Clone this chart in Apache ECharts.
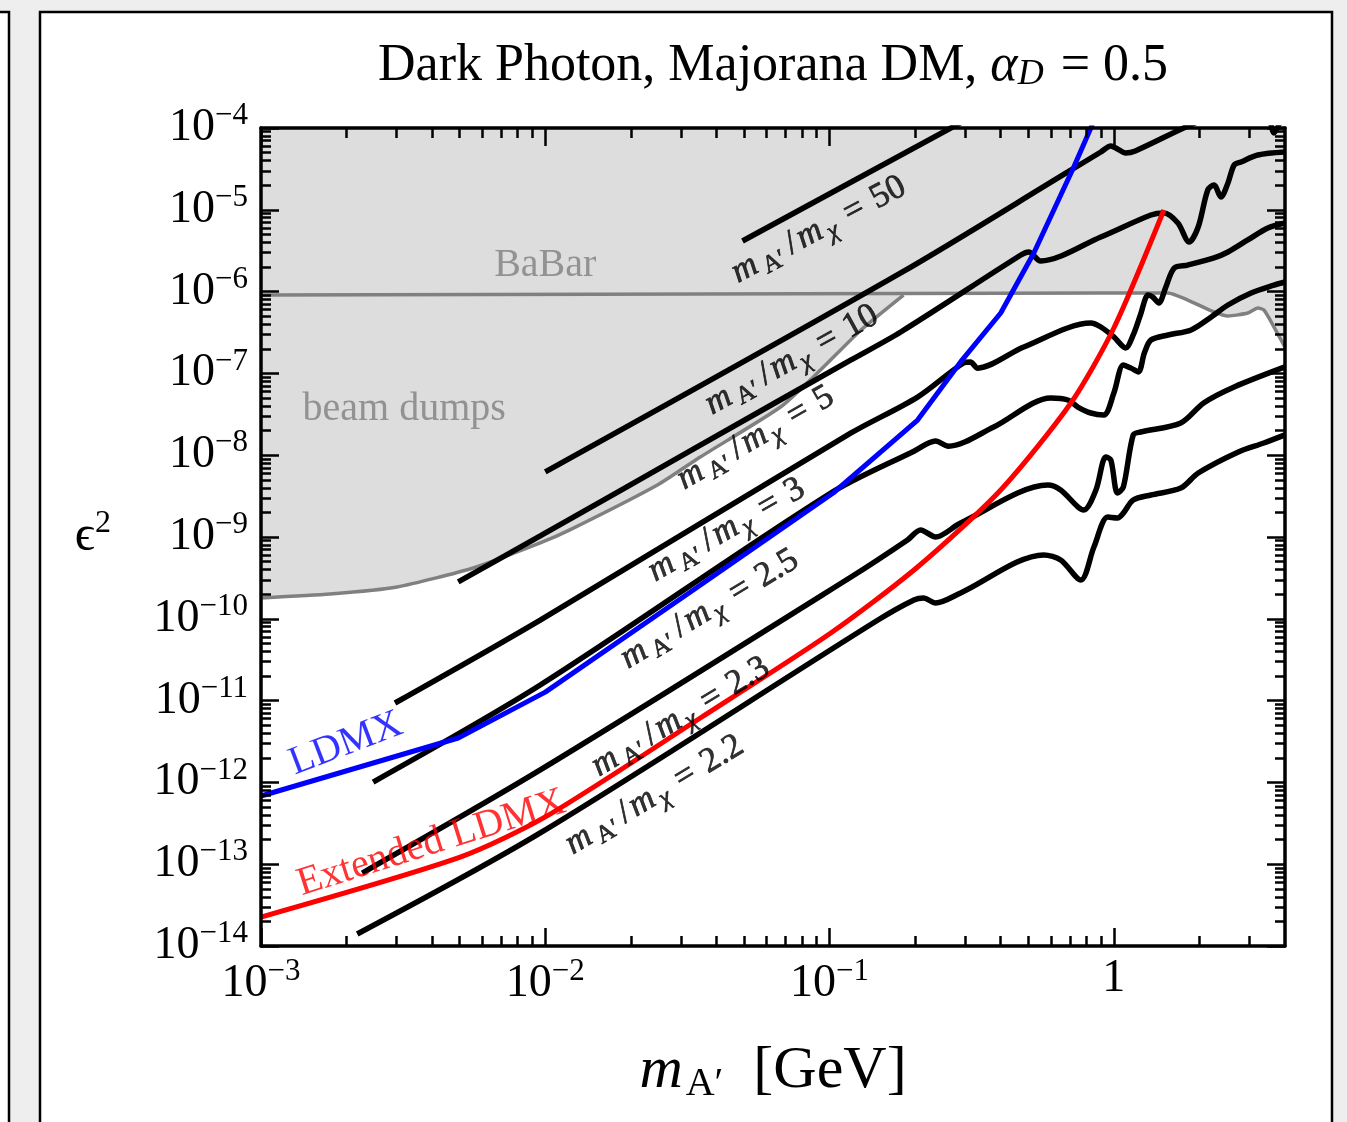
<!DOCTYPE html>
<html>
<head>
<meta charset="utf-8">
<title>Dark Photon, Majorana DM</title>
<script src="https://cdn.jsdelivr.net/npm/echarts@6/dist/echarts.min.js"></script>
<style>
  html, body { margin: 0; padding: 0; background: #eeeeee; }
  #chart { width: 1347px; height: 1122px; }
</style>
</head>
<body>
<div id="chart"></div>
<script>
// ---- axis ranges and ticks -------------------------------------------------
const X_MIN = 1e-3, X_MAX = 4;
const Y_MIN = 1e-14, Y_MAX = 1e-4;

const xMajorTicks = [1e-3, 1e-2, 1e-1, 1];
const yMajorTicks = [1e-14, 1e-13, 1e-12, 1e-11, 1e-10, 1e-9, 1e-8, 1e-7, 1e-6, 1e-5, 1e-4];
const minorSteps = [2, 3, 4, 5, 6, 7, 8, 9];

// ---- curves: [m_A' in GeV, epsilon^2] ---------------------------------------
// thermal relic targets for fixed mass ratios m_A'/m_chi
const ratio50 = [[4.94e-2, 4.16e-6], [4.00e-1, 2.14e-4]];
const ratio10 = [
  [1.00e-2, 6.24e-9], [1.78e-1, 1.69e-6], [6.89e-1, 2.90e-5], [9.00e-1, 5.09e-5],
  [9.76e-1, 6.03e-5], [1.03, 5.54e-5], [1.10, 4.95e-5], [1.19, 5.24e-5],
  [1.76, 1.00e-4], [2.58, 1.76e-4], [3.35, 2.39e-4], [3.66, 8.69e-5], [4.0, 1.76e-4]
];
const ratio5 = [
  [4.94e-3, 2.82e-10], [9.60e-3, 1.03e-9], [3.51e-2, 1.33e-8], [1.19e-1, 1.46e-7],
  [1.78e-1, 3.21e-7], [4.71e-1, 2.80e-6], [5.02e-1, 3.05e-6], [5.53e-1, 2.37e-6],
  [9.00e-1, 4.65e-6], [1.35, 8.63e-6], [1.50, 9.14e-6], [1.68, 6.90e-6],
  [1.84, 4.04e-6], [1.98, 6.16e-6], [2.14, 1.75e-5], [2.25, 2.01e-5],
  [2.38, 1.43e-5], [2.52, 2.13e-5], [2.65, 3.53e-5], [2.80, 3.84e-5],
  [3.21, 4.68e-5], [4.0, 5.09e-5]
];
const ratio3 = [
  [2.96e-3, 9.35e-12], [9.60e-3, 9.66e-11], [1.19e-1, 1.87e-8], [2.04e-1, 5.14e-8],
  [2.96e-1, 1.34e-7], [3.13e-1, 1.38e-7], [3.32e-1, 1.16e-7], [4.82e-1, 2.10e-7],
  [8.30e-1, 4.13e-7], [9.00e-1, 3.69e-7], [1.00, 2.79e-7], [1.10, 2.05e-7],
  [1.17, 2.95e-7], [1.24, 5.18e-7], [1.32, 9.08e-7], [1.37, 8.59e-7],
  [1.44, 7.26e-7], [1.52, 1.11e-6], [1.63, 1.94e-6], [1.82, 2.11e-6],
  [2.25, 2.58e-6], [2.52, 3.05e-6], [2.96, 4.28e-6], [3.48, 6.00e-6], [4.0, 6.90e-6]
];
const ratio2p5 = [
  [2.48e-3, 1.01e-12], [9.60e-3, 1.55e-11], [1.01e-1, 3.45e-9], [1.98e-1, 1.12e-8],
  [2.36e-1, 1.49e-8], [2.62e-1, 1.29e-8], [3.78e-1, 2.21e-8], [6.00e-1, 5.00e-8],
  [6.89e-1, 4.73e-8], [7.47e-1, 3.88e-8], [8.30e-1, 3.28e-8], [9.22e-1, 3.10e-8],
  [1.00, 5.75e-8], [1.08, 1.27e-7], [1.15, 1.16e-7], [1.22, 1.04e-7],
  [1.28, 1.77e-7], [1.35, 2.56e-7], [1.55, 2.95e-7], [1.87, 3.40e-7],
  [2.20, 4.89e-7], [2.52, 6.86e-7], [3.04, 9.62e-7], [3.66, 1.20e-6], [4.0, 1.31e-6]
];
const ratio2p3 = [
  [2.27e-3, 7.80e-14], [9.60e-3, 1.42e-12], [1.19e-1, 3.24e-10], [1.88e-1, 9.19e-10],
  [2.09e-1, 1.22e-9], [2.36e-1, 1.00e-9], [2.89e-1, 1.48e-9], [5.86e-1, 4.32e-9],
  [6.50e-1, 3.76e-9], [7.84e-1, 2.14e-9], [8.65e-1, 3.76e-9], [9.37e-1, 9.51e-9],
  [9.76e-1, 8.73e-9], [1.03, 3.45e-9], [1.08, 4.08e-9], [1.17, 1.77e-8],
  [1.24, 1.92e-8], [1.72, 2.48e-8], [2.07, 4.35e-8], [2.65, 6.82e-8], [4.0, 1.20e-7]
];
const ratio2p2 = [
  [2.18e-3, 1.40e-14], [9.60e-3, 2.41e-13], [1.48e-1, 9.66e-11], [1.98e-1, 1.70e-10],
  [2.14e-1, 1.80e-10], [2.36e-1, 1.56e-10], [2.89e-1, 2.07e-10], [5.67e-1, 6.03e-10],
  [6.50e-1, 5.24e-10], [7.65e-1, 2.98e-10], [8.51e-1, 7.55e-10], [9.52e-1, 1.75e-9],
  [1.03, 1.71e-9], [1.08, 1.96e-9], [1.17, 2.83e-9], [1.35, 3.26e-9],
  [1.72, 3.97e-9], [1.98, 6.06e-9], [2.73, 1.09e-8], [3.37, 1.41e-8], [4.0, 1.77e-8]
];

// projected reach
const ldmx = [
  [1.00e-3, 6.82e-13], [4.94e-3, 3.49e-12], [1.00e-2, 1.27e-11], [3.24e-2, 2.13e-10],
  [1.03e-1, 3.45e-9], [2.04e-1, 2.69e-8], [2.89e-1, 1.38e-7], [4.00e-1, 5.48e-7],
  [5.23e-1, 2.96e-6], [7.23e-1, 3.34e-5], [8.30e-1, 1.00e-4], [8.65e-1, 1.44e-4]
];
const extendedLdmx = [
  [1.00e-3, 2.26e-14], [5.02e-3, 1.22e-13], [1.00e-2, 3.78e-13], [3.51e-2, 6.13e-12],
  [1.01e-1, 6.70e-11], [2.04e-1, 4.30e-10], [4.00e-1, 3.76e-9], [7.06e-1, 4.35e-8],
  [1.00, 3.59e-7], [1.50, 9.95e-6]
];

// existing limits
const beamDumps = [
  [1.00e-3, 1.80e-10], [1.75e-3, 2.01e-10], [3.01e-3, 2.45e-10], [5.58e-3, 4.18e-10],
  [9.60e-3, 8.45e-10], [1.22e-2, 1.22e-9], [2.48e-2, 4.32e-9], [3.51e-2, 9.51e-9],
  [6.72e-2, 3.88e-8], [9.29e-2, 1.10e-7], [1.29e-1, 3.40e-7], [1.82e-1, 9.08e-7]
];
const babar = [
  [1.00e-3, 9.08e-7], [3.51e-2, 9.35e-7], [9.00e-1, 9.62e-7], [1.55, 9.62e-7],
  [1.82, 7.89e-7], [2.25, 5.64e-7], [2.52, 5.03e-7], [2.96, 5.48e-7],
  [3.21, 6.31e-7], [3.37, 5.96e-7], [3.66, 3.69e-7], [4.0, 2.10e-7]
];

// ---- text placed on the plot (data coordinates, rotation in degrees) -------
const ratioNames = ['50', '10', '5', '3', '2.5', '2.3', '2.2'];
const ratioLabelAt = [
  [9.15e-2, 5.7e-6], [7.36e-2, 1.46e-7], [5.49e-2, 1.62e-8], [4.34e-2, 1.22e-9],
  [3.78e-2, 1.31e-10], [2.99e-2, 6.30e-12], [2.42e-2, 7.01e-13]
];
const ratioLabelAngle = [28, 29, 30, 30, 31, 31, 31];

const regionLabels = [
  { text: 'BaBar', at: [1.00e-2, 2.11e-6], angle: 0, color: '#808080' },
  { text: 'beam dumps', at: [3.19e-3, 3.57e-8], angle: 0, color: '#808080' },
  { text: 'LDMX', at: [1.99e-3, 2.95e-12], angle: 21, color: '#0000ff' },
  { text: 'Extended LDMX', at: [3.98e-3, 1.80e-13], angle: 17.5, color: '#ff0000' }
];

// ---- styling ----------------------------------------------------------------
const SERIF = 'Liberation Serif';
const NO_HALO = { textBorderWidth: 0, textBorderColor: 'transparent', textShadowBlur: 0 };
// a hairline outline in the text colour keeps the rotated math labels solid black
const INK = { textBorderWidth: 0.7, textBorderColor: '#000', textShadowBlur: 0 };

function minorValues(majors, upper) {
  const out = [];
  majors.forEach(function (d) {
    minorSteps.forEach(function (k) {
      const v = d * k;
      if (v < upper) out.push(v);
    });
  });
  return out;
}
const xMinorTicks = minorValues(xMajorTicks, X_MAX);
const yMinorTicks = minorValues(yMajorTicks.slice(0, -1), Y_MAX);

function powerLabel(v) {
  const p = Math.round(Math.log10(v));
  if (p === 0) return '{b|1}';
  return '{b|10}{e|' + (p < 0 ? '\u2212' + (-p) : String(p)) + '}';
}
const TICK_RICH = {
  b: { fontFamily: SERIF, fontSize: 46, color: '#000' },
  e: { fontFamily: SERIF, fontSize: 31, color: '#000', padding: [0, 0, 24, 0] }
};

function makeAxis(dim, position, ticks, tickLen, labels, line) {
  return {
    type: 'log', logBase: 10,
    min: dim === 'x' ? X_MIN : Y_MIN,
    max: dim === 'x' ? X_MAX : Y_MAX,
    position: position, z: 10, silent: true,
    axisLine: { show: line, onZero: false, lineStyle: { color: '#000', width: 3.5 } },
    axisTick: { show: true, inside: true, length: tickLen, customValues: ticks,
                lineStyle: { color: '#000', width: 2.5 } },
    axisLabel: labels ? {
      show: true, customValues: ticks, formatter: powerLabel, rich: TICK_RICH,
      margin: dim === 'x' ? 10 : 13, color: '#000', fontFamily: SERIF, fontSize: 46
    } : { show: false },
    splitLine: { show: false }, minorTick: { show: false }, minorSplitLine: { show: false },
    axisPointer: { show: false }
  };
}

const xAxes = [
  makeAxis('x', 'bottom', xMajorTicks, 18, true, true),
  makeAxis('x', 'bottom', xMinorTicks, 10, false, false),
  makeAxis('x', 'top', xMajorTicks, 18, false, true),
  makeAxis('x', 'top', xMinorTicks, 10, false, false)
];
xAxes[0].name = '{i|m}{s|A\u2032}{n|  [GeV]}';
xAxes[0].nameLocation = 'middle';
xAxes[0].nameGap = 92;
xAxes[0].nameTextStyle = {
  rich: {
    i: { fontFamily: SERIF, fontStyle: 'italic', fontSize: 60, color: '#000', padding: [0, 3, 0, 0] },
    s: { fontFamily: SERIF, fontSize: 40, color: '#000', padding: [26, 0, 0, 0] },
    n: { fontFamily: SERIF, fontSize: 60, color: '#000' }
  }
};

const yAxes = [
  makeAxis('y', 'left', yMajorTicks, 18, true, true),
  makeAxis('y', 'left', yMinorTicks, 10, false, false),
  makeAxis('y', 'right', yMajorTicks, 18, false, true),
  makeAxis('y', 'right', yMinorTicks, 10, false, false)
];
yAxes[0].name = '{i|\u03f5}{e|2}';
yAxes[0].nameLocation = 'middle';
yAxes[0].nameRotate = 0;
yAxes[0].nameGap = 150;
yAxes[0].nameTextStyle = {
  rich: {
    i: { fontFamily: SERIF, fontSize: 50, color: '#000' },
    e: { fontFamily: SERIF, fontSize: 32, color: '#000', padding: [0, 0, 26, 0] }
  }
};

// m_A'/m_chi labels: math-style spacing around the subscripts, slash and equals sign
function token(extra) {
  return Object.assign({ fontFamily: SERIF, color: '#000' }, INK, extra);
}
const ANNOT_RICH = {
  i: token({ fontStyle: 'italic', fontSize: 35, padding: [0, 4, 0, 0] }),
  s: token({ fontSize: 25, padding: [17, 5, 0, 1] }),
  si: token({ fontStyle: 'italic', fontSize: 25, padding: [17, 2, 0, 0] }),
  sl: token({ fontSize: 35, padding: [0, 3, 0, 2] }),
  n: token({ fontSize: 35 }),
  eq: token({ fontSize: 35, padding: [0, 11, 0, 11] })
};
function ratioText(r) {
  return '{i|m}{s|A\u2032}{sl|/}{i|m}{si|\u03c7}{eq|=}{n|' + r + '}';
}

function curve(name, data, color, width, smooth) {
  return {
    name: name, type: 'line', data: data, symbol: 'none', showSymbol: false,
    smooth: smooth, silent: true, clip: true, z: 3,
    lineStyle: { color: color, width: width }
  };
}

// excluded region: lower envelope of beam dumps and BaBar, filled up to the top
const shadeBoundary = beamDumps.concat(babar.filter(function (p) {
  return p[0] > beamDumps[beamDumps.length - 1][0];
}));

const annotations = ratioNames.map(function (r, i) {
  return {
    value: ratioLabelAt[i],
    label: Object.assign({ formatter: ratioText(r), rotate: ratioLabelAngle[i], color: '#000' }, INK)
  };
}).concat(regionLabels.map(function (t) {
  return {
    value: t.at,
    label: Object.assign({ formatter: t.text, rotate: t.angle, color: t.color, fontSize: 40 }, NO_HALO)
  };
}));

const chart = echarts.init(document.getElementById('chart'), null, { renderer: 'canvas' });
chart.setOption({
  backgroundColor: '#eeeeee',
  animation: false,
  title: {
    text: '{n|Dark Photon, Majorana DM, }{i|\u03b1}{d|D}{n| = 0.5}',
    left: 768, top: 34, textAlign: 'center',
    textStyle: {
      fontWeight: 'normal',
      rich: {
        n: { fontFamily: SERIF, fontSize: 52, fontWeight: 'normal', color: '#000' },
        i: { fontFamily: SERIF, fontStyle: 'italic', fontWeight: 'normal', fontSize: 52, color: '#000' },
        d: { fontFamily: SERIF, fontStyle: 'italic', fontWeight: 'normal', fontSize: 36,
             color: '#000', padding: [18, 4, 0, 0] }
      }
    }
  },
  graphic: [
    { type: 'rect', z: -10, silent: true,
      shape: { x: -20, y: 12, width: 29, height: 1200 },
      style: { fill: '#ffffff', stroke: '#000000', lineWidth: 2.5 } },
    { type: 'rect', z: -10, silent: true,
      shape: { x: 40, y: 12, width: 1292, height: 1200 },
      style: { fill: '#ffffff', stroke: '#000000', lineWidth: 2.5 } }
  ],
  grid: { left: 261, right: 62, top: 128, bottom: 176, containLabel: false, outerBoundsMode: 'none' },
  xAxis: xAxes,
  yAxis: yAxes,
  tooltip: { show: false },
  series: [
    {
      name: 'excluded', type: 'line', data: shadeBoundary, symbol: 'none', showSymbol: false,
      silent: true, z: 1, lineStyle: { width: 0, opacity: 0 },
      areaStyle: { origin: 'end', color: '#dddddd', opacity: 1 }
    },
    curve('beam dumps', beamDumps, '#808080', 3.5, 0.2),
    curve('BaBar', babar, '#808080', 3.5, 0.2),
    curve('m_A\'/m_chi = 50', ratio50, '#000', 5.5, false),
    curve('m_A\'/m_chi = 10', ratio10, '#000', 5.5, 0.3),
    curve('m_A\'/m_chi = 5', ratio5, '#000', 5.5, 0.3),
    curve('m_A\'/m_chi = 3', ratio3, '#000', 5.5, 0.3),
    curve('m_A\'/m_chi = 2.5', ratio2p5, '#000', 5.5, 0.3),
    curve('m_A\'/m_chi = 2.3', ratio2p3, '#000', 5.5, 0.3),
    curve('m_A\'/m_chi = 2.2', ratio2p2, '#000', 5.5, 0.3),
    curve('LDMX', ldmx, '#0000ff', 5, false),
    curve('Extended LDMX', extendedLdmx, '#ff0000', 5, 0.25),
    {
      name: 'labels', type: 'scatter', data: annotations, silent: true, z: 6,
      symbolSize: 0.01, itemStyle: { color: 'rgba(0,0,0,0)' },
      label: Object.assign({
        show: true, position: 'inside', fontFamily: SERIF, fontSize: 35, color: '#000',
        rich: ANNOT_RICH
      }, INK),
      emphasis: { disabled: true }
    }
  ]
});
</script>
</body>
</html>
